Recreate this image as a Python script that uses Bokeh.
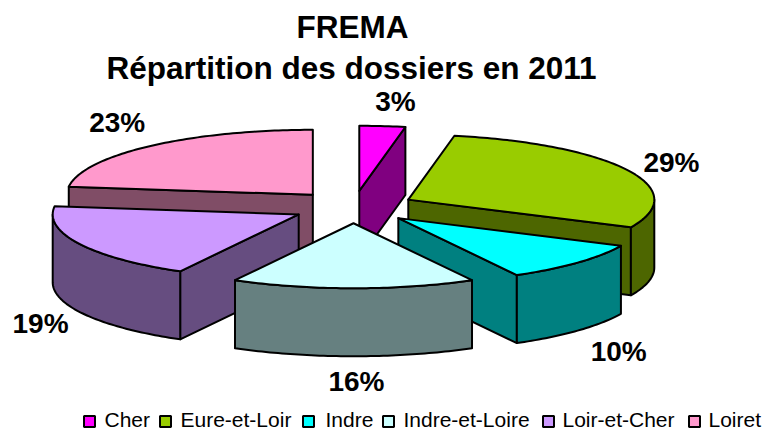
import numpy as np
from bokeh.embed import file_html
from bokeh.resources import INLINE
from bokeh.plotting import figure
from bokeh.core.properties import value

categories = ["Cher", "Eure-et-Loir", "Indre", "Indre-et-Loire", "Loir-et-Cher", "Loiret"]
shares = [3, 29, 10, 16, 19, 23]
labels = ["3%", "29%", "10%", "16%", "19%", "23%"]
top_colors = ["#FF00FF", "#99CC00", "#00FFFF", "#CCFFFF", "#CC99FF", "#FF99CC"]
side_colors = ["#800080", "#4D6600", "#008080", "#668080", "#664D80", "#804D66"]
title_lines = ["FREMA", "Répartition des dossiers en 2011"]

# layout of the 3-D pie, in page pixels
W, H = 763, 430
CX, CY = 353, 206.5
RX, RY = 246, 65
DEPTH = 68
EXPLODE = 0.25
PAINT_ORDER = [0, 5, 1, 4, 2, 3]
LABEL_NUDGE = [(13, -25), (44, -8), (41, 88.5), (3, 93), (-39, 80), (-33, -24)]
LEGEND_SWATCH_X = [89, 165, 308, 388, 548, 694]
LEGEND_TEXT_X = [104, 180, 325, 403, 562, 708]
LEGEND_Y = 421
FONT = value("Liberation Sans")

p = figure(width=W, height=H, x_range=(0, W), y_range=(H, 0),
           toolbar_location=None, output_backend="svg", min_border=0, outline_line_color=None,
           background_fill_color="white", border_fill_color="white")
p.axis.visible = False
p.grid.visible = False


def rim(a0, a1, ox, oy, n=None):
    n = n or max(2, int(abs(a1 - a0)) + 2)
    t = np.radians(np.linspace(a0, a1, n))
    return ox + RX * np.sin(t), oy - RY * np.cos(t)


total = sum(shares)
edges = np.concatenate([[0], np.cumsum(shares)]) * 360.0 / total
style = dict(line_color="black", line_width=2, line_join="round")
for i in PAINT_ORDER:
    a0, a1 = edges[i], edges[i + 1]
    mid = np.radians((a0 + a1) / 2)
    ox = CX + EXPLODE * RX * np.sin(mid)
    oy = CY - EXPLODE * RY * np.cos(mid)

    # radial cut faces, only those turned towards the viewer
    for ang, show in ((a0, np.sin(np.radians(a0)) < -1e-6), (a1, np.sin(np.radians(a1)) > 1e-6)):
        if show:
            rx, ry = rim(ang, ang, ox, oy, 1)
            p.patch([ox, rx[0], rx[0], ox], [oy, ry[0], ry[0] + DEPTH, oy + DEPTH],
                    fill_color=side_colors[i], **style)

    # outer wall: the part of the rim on the front half
    lo, hi = max(a0, 90), min(a1, 270)
    if hi > lo:
        rx, ry = rim(lo, hi, ox, oy)
        p.patch(np.concatenate([rx, rx[::-1]]), np.concatenate([ry, ry[::-1] + DEPTH]),
                fill_color=side_colors[i], **style)

    # top face
    rx, ry = rim(a0, a1, ox, oy)
    p.patch(np.concatenate([[ox], rx]), np.concatenate([[oy], ry]),
            fill_color=top_colors[i], **style)

    # data label
    mx, my = ox + RX * np.sin(mid), oy - RY * np.cos(mid)
    nx, ny = LABEL_NUDGE[i]
    p.text([mx + nx], [my + ny], text=[labels[i]], text_font=FONT, text_font_size="28px",
           text_font_style="bold", text_align="center", text_baseline="middle", text_color="black")

p.text([352, 351], [26, 67], text=title_lines, text_font=FONT,
       text_font_size="31.5px", text_font_style="bold", text_align="center",
       text_baseline="middle", text_color="black")

# legend row
p.scatter(LEGEND_SWATCH_X, [LEGEND_Y] * 6, marker="square", size=11,
          fill_color=top_colors, line_color="black", line_width=2)
p.text(LEGEND_TEXT_X, [LEGEND_Y - 2] * 6, text=categories, text_font=FONT,
       text_font_size="21px", text_align="left", text_baseline="middle", text_color="black")

open("out.html", "w").write(file_html(p, INLINE))
